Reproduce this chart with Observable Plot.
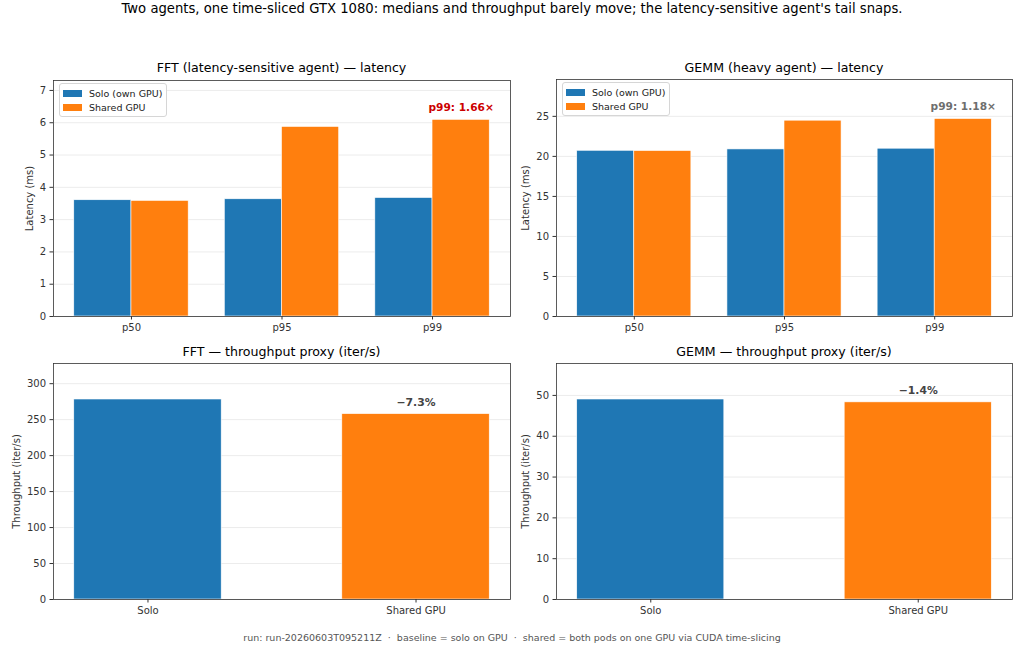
<!DOCTYPE html>
<html>
<head>
<meta charset="utf-8">
<script src="https://cdn.jsdelivr.net/npm/d3@7"></script>
<script src="https://cdn.jsdelivr.net/npm/@observablehq/plot@0.6"></script>
<style>
  body { margin: 0; background: #fff; font-family: "DejaVu Sans", sans-serif; }
  #fig { position: relative; width: 1024px; height: 645px; overflow: hidden; background: #fff; }
  #fig > * { position: absolute; }
  .suptitle { left: 0; width: 1024px; top: 1px; line-height: 16px; text-align: center; font-size: 13.2px; color: #000; }
  .ptitle { line-height: 14px; text-align: center; font-size: 12.6px; color: #000; white-space: nowrap; }
  .caption { left: 0; width: 1024px; top: 631px; line-height: 14px; text-align: center; font-size: 9.5px; color: #555; white-space: pre; }
  .legend { border: 1px solid #d6d6d6; border-radius: 3px; background: rgba(255,255,255,0.85); box-sizing: border-box; }
  .legend .row { position: absolute; left: 3px; height: 14px; display: flex; align-items: center; font-size: 9.5px; color: #222; white-space: nowrap; }
  .legend .sw { width: 19px; height: 7px; margin-right: 7.5px; }
</style>
</head>
<body>
<div id="fig"></div>
<script>
// Latency percentiles per agent (ms)
const percentiles = ["p50", "p95", "p99"];
const fftSoloMs = [3.60, 3.63, 3.67];
const fftSharedMs = [3.58, 5.87, 6.09];
const gemmSoloMs = [20.70, 20.87, 20.96];
const gemmSharedMs = [20.67, 24.46, 24.67];

// Throughput proxy per agent (iter/s)
const modes = ["Solo", "Shared GPU"];
const fftIterPerSec = [278.0, 257.7];
const gemmIterPerSec = [49.0, 48.3];

// Legend entries and y tick values
const seriesNames = ["Solo (own GPU)", "Shared GPU"];
const fftLatencyTicks = [0, 1, 2, 3, 4, 5, 6, 7];
const gemmLatencyTicks = [0, 5, 10, 15, 20, 25];
const fftThroughputTicks = [0, 50, 100, 150, 200, 250, 300];
const gemmThroughputTicks = [0, 10, 20, 30, 40, 50];

const BLUE = "#1f77b4", ORANGE = "#ff7f0e";
const fig = document.getElementById("fig");

function add(html) {
  const t = document.createElement("template");
  t.innerHTML = html.trim();
  const el = t.content.firstChild;
  fig.appendChild(el);
  return el;
}

// Place a Plot svg so that its plotting frame spans [fx0,fx1] x [fy0,fy1] in figure pixels
function placePlot(marks, {svgLeft, svgTop, width, height, frame, x, y}) {
  const [fx0, fy0, fx1, fy1] = frame;
  const svg = Plot.plot({
    width, height,
    marginLeft: fx0 - svgLeft,
    marginRight: svgLeft + width - fx1,
    marginTop: fy0 - svgTop,
    marginBottom: svgTop + height - fy1,
    x, y,
    color: {domain: ["Solo", "Shared"], range: [BLUE, ORANGE]},
    style: {fontFamily: "DejaVu Sans, sans-serif", fontSize: "10px", color: "#333", background: "transparent", overflow: "visible"},
    marks
  });
  svg.style.left = svgLeft + "px";
  svg.style.top = svgTop + "px";
  fig.appendChild(svg);
}

function panelTitle(text, frame, centerY) {
  const el = add(`<div class="ptitle">${text}</div>`);
  el.style.left = frame[0] + "px";
  el.style.width = (frame[2] - frame[0]) + "px";
  el.style.top = (centerY - 7) + "px";
}

function legend(left, top) {
  const el = add(`<div class="legend"></div>`);
  el.style.left = left + "px";
  el.style.top = top + "px";
  el.style.width = "108px";
  el.style.height = "34px";
  [BLUE, ORANGE].forEach((c, k) => {
    const row = document.createElement("div");
    row.className = "row";
    row.style.top = (2 + k * 14.5) + "px";
    row.innerHTML = `<span class="sw" style="background:${c}"></span>${seriesNames[k]}`;
    el.appendChild(row);
  });
}

// Grouped latency bars: categories at 0..n-1, two bars of width BW each side of the center
function latencyPanel({solo, shared, ticks, frame, svgLeft, labelOffset, title, ratioColor}) {
  const BW = 0.38;
  const rows = percentiles.flatMap((p, i) => [
    {series: "Solo", x1: i - BW, x2: i, v: solo[i]},
    {series: "Shared", x1: i, x2: i + BW, v: shared[i]}
  ]);
  const span = (percentiles.length - 1) + 2 * BW;
  const xDomain = [-BW - 0.05 * span, percentiles.length - 1 + BW + 0.05 * span];
  const ymax = d3.max([...solo, ...shared]) * 1.2;
  const last = percentiles.length - 1;
  const ratio = shared[last] / solo[last];
  const note = [{x: last + BW / 2, y: shared[last], label: `${percentiles[last]}: ${ratio.toFixed(2)}×`}];
  placePlot([
    Plot.gridY(ticks, {stroke: "#000", strokeOpacity: 0.08}),
    Plot.rectY(rows, {x1: "x1", x2: "x2", y1: 0, y2: "v", fill: "series", stroke: "#fff", strokeWidth: 0.6}),
    Plot.text(note, {x: "x", y: "y", text: "label", dy: -12, fill: ratioColor, fontWeight: "bold", fontSize: 10.6}),
    Plot.axisY({ticks, tickSize: 3.5, tickPadding: 4, label: "Latency (ms)", labelAnchor: "center", labelArrow: "none", labelOffset}),
    Plot.axisX({ticks: percentiles.map((_, i) => i), tickFormat: i => percentiles[i], tickSize: 3.5, tickPadding: 3.5, label: null}),
    Plot.frame({stroke: "#333", strokeWidth: 0.8})
  ], {svgLeft, svgTop: 60, width: 512, height: 280, frame, x: {domain: xDomain}, y: {domain: [0, ymax]}});
  panelTitle(title, frame, 68);
  legend(frame[0] + 5.5, frame[1] + 3);
}

// Two-bar throughput comparison with the relative change over the shared bar
function throughputPanel({values, ticks, frame, svgLeft, labelOffset, title}) {
  const BW = 0.275;
  const rows = modes.map((m, i) => ({series: i === 0 ? "Solo" : "Shared", x1: i - BW, x2: i + BW, v: values[i]}));
  const span = (modes.length - 1) + 2 * BW;
  const xDomain = [-BW - 0.05 * span, modes.length - 1 + BW + 0.05 * span];
  const ymax = d3.max(values) * 1.18;
  const pct = (values[1] / values[0] - 1) * 100;
  const sign = pct < 0 ? "\u2212" : "+";
  const note = [{x: 1, y: values[1], label: `${sign}${Math.abs(pct).toFixed(1)}%`}];
  placePlot([
    Plot.gridY(ticks, {stroke: "#000", strokeOpacity: 0.08}),
    Plot.rectY(rows, {x1: "x1", x2: "x2", y1: 0, y2: "v", fill: "series", stroke: "#fff", strokeWidth: 0.6}),
    Plot.text(note, {x: "x", y: "y", text: "label", dy: -12, fill: "#444", fontWeight: "bold", fontSize: 10.8}),
    Plot.axisY({ticks, tickSize: 3.5, tickPadding: 4, label: "Throughput (iter/s)", labelAnchor: "center", labelArrow: "none", labelOffset}),
    Plot.axisX({ticks: modes.map((_, i) => i), tickFormat: i => modes[i], tickSize: 3.5, tickPadding: 3.5, label: null}),
    Plot.frame({stroke: "#333", strokeWidth: 0.8})
  ], {svgLeft, svgTop: 345, width: 512, height: 280, frame, x: {domain: xDomain}, y: {domain: [0, ymax]}});
  panelTitle(title, frame, 352);
}

add(`<div class="suptitle">Two agents, one time-sliced GTX 1080: medians and throughput barely move; the latency-sensitive agent's tail snaps.</div>`);

latencyPanel({
  solo: fftSoloMs, shared: fftSharedMs, ticks: fftLatencyTicks,
  frame: [53, 80, 510, 316], svgLeft: 0, labelOffset: 28,
  title: "FFT (latency-sensitive agent) — latency", ratioColor: "#cc0000"
});
latencyPanel({
  solo: gemmSoloMs, shared: gemmSharedMs, ticks: gemmLatencyTicks,
  frame: [556, 79, 1012, 316], svgLeft: 512, labelOffset: 35,
  title: "GEMM (heavy agent) — latency", ratioColor: "#6e6e6e"
});
throughputPanel({
  values: fftIterPerSec, ticks: fftThroughputTicks,
  frame: [53, 363, 510, 599], svgLeft: 0, labelOffset: 41,
  title: "FFT — throughput proxy (iter/s)"
});
throughputPanel({
  values: gemmIterPerSec, ticks: gemmThroughputTicks,
  frame: [556, 363, 1012, 599], svgLeft: 512, labelOffset: 35,
  title: "GEMM — throughput proxy (iter/s)"
});

add(`<div class="caption">run: run-20260603T095211Z  ·  baseline = solo on GPU  ·  shared = both pods on one GPU via CUDA time-slicing</div>`);
</script>
</body>
</html>
